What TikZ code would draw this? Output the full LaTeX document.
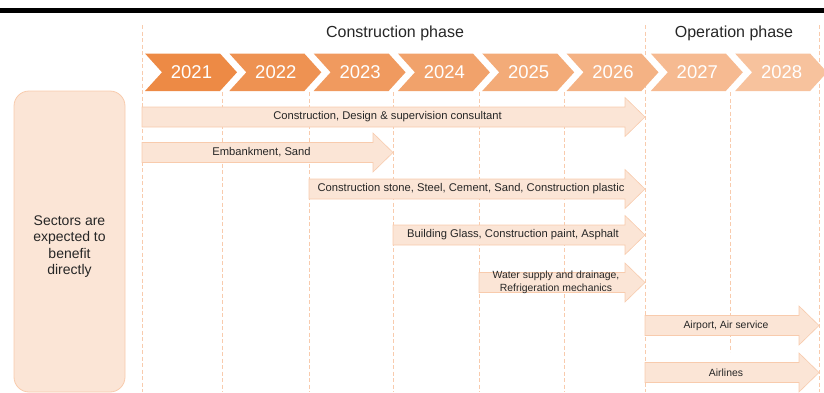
\documentclass[tikz,border=0pt]{standalone}
\usepackage{fontspec}
\setmainfont{Liberation Sans}
\usetikzlibrary{positioning}
\definecolor{yeardark}{HTML}{ED8A45}
\definecolor{yearlight}{HTML}{F7C29D}
\definecolor{barfill}{HTML}{FBE5D6}
\definecolor{baredge}{HTML}{F8CBAD}
\definecolor{guide}{HTML}{F8CBAD}
\definecolor{ink}{HTML}{262626}
\tikzset{
  guide line/.style={guide, dashed, dash pattern=on 4pt off 2.5pt, line width=0.8pt},
  year/.style={text=white, font=\fontsize{18.5}{20}\selectfont},
  phase/.style={text=ink, font=\fontsize{16}{19}\selectfont},
  bar/.style={fill=barfill, draw=baredge, line width=0.6pt},
  bar label/.style={text=ink, font=\fontsize{11.2}{13.5}\selectfont, align=center, inner sep=0pt},
  small label/.style={font=\fontsize{10.4}{13.5}\selectfont},
  sector box/.style={fill=barfill, draw=baredge, line width=0.8pt, rounded corners=15pt,
    minimum width=111pt, minimum height=301pt, inner sep=0pt},
  sector label/.style={text=ink, font=\fontsize{14}{16.5}\selectfont, align=center},
}

% one benefit arrow: [label style], name, start x, tip x, centre y, label
\newcommand{\benefitbar}[6][]{%
  \draw[bar] (#3,#5-10) -- (#4-20,#5-10) -- (#4-20,#5-19.5) -- (#4,#5)
    -- (#4-20,#5+19.5) -- (#4-20,#5+10) -- (#3,#5+10) -- cycle;
  \node[bar label, #1] (#2) at ({(#3+#4)/2-6},#5) {#6};
}

\begin{document}
\begin{tikzpicture}[x=1pt, y=-1pt]
  \clip (0,0) rectangle (824,392);

  % Top rule
  \fill[black] (0,8) rectangle (824,12.5);

  % Guide lines between years
  \foreach \gx in {142,645,819}
    \draw[guide line] (\gx,25) -- (\gx,392);
  \foreach \gx in {222,309,393,479,564}
    \draw[guide line] (\gx,92) -- (\gx,392);
  \draw[guide line] (730,92) -- (730,352);

  % Phases
  \node[phase] (construction) at (395,33) {Construction phase};
  \node[phase] (operation) at (734,33) {Operation phase};

  % Year chevrons
  \foreach \yr [count=\i from 0] in {2021,...,2028}{
    \pgfmathsetmacro\lx{145+84.3*\i}
    \pgfmathtruncatemacro\shade{100-100*\i/7}
    \fill[yeardark!\shade!yearlight] (\lx,53.5) -- ++(75,0) -- ++(17,18.8)
      -- ++(-17,18.7) -- ++(-75,0) -- ++(17,-18.7) -- cycle;
    \node[year] (y\yr) at (\lx+46.5,72.3) {\yr};
  }

  % Sectors
  \node[sector box] (sectors) at (69.5,241.5) {};
  \node[sector label, yshift=-5pt] (sectors text) at (sectors.center)
    {Sectors are\\expected to\\benefit\\directly};

  % Benefit arrows
  \benefitbar{consultant}{142}{645}{117}{Construction, Design \& supervision consultant}
  \benefitbar{embankment}{142}{393}{152.5}{Embankment, Sand}
  \benefitbar{materials}{309}{645}{189}{Construction stone, Steel, Cement, Sand, Construction plastic}
  \benefitbar{finishing}{393}{645}{235}{Building Glass, Construction paint, Asphalt}
  \benefitbar[small label]{water}{479}{645}{282.5}{Water supply and drainage,\\Refrigeration mechanics}
  \benefitbar[small label]{airport}{645}{819}{325.5}{Airport, Air service}
  \benefitbar[small label]{airlines}{645}{819}{372.5}{Airlines}
\end{tikzpicture}
\end{document}
